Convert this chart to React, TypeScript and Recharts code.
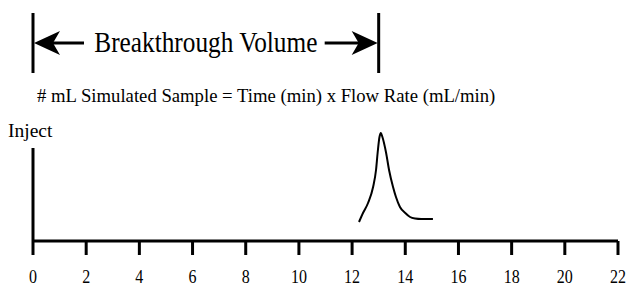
import React from 'react';
import { LineChart, Line, XAxis, YAxis, ReferenceLine } from 'recharts';

// Chromatogram trace (time in min, detector signal in arbitrary units)
const timeMin = [12.26, 12.41, 12.6, 12.79, 12.9, 12.96, 13.03, 13.08, 13.14, 13.28, 13.39, 13.54, 13.65, 13.8, 14.0, 14.18, 14.37, 14.6, 15.04];
const signal = [19, 28, 38, 54, 71, 88, 104, 108, 104, 88, 71, 54, 44, 34, 28, 24, 22.5, 22, 22];
const xTicks = [0, 2, 4, 6, 8, 10, 12, 14, 16, 18, 20, 22];
const injectTime = [0];
const breakthroughEnd = [13];
const injectHeight = [93];

const data = timeMin.map((t, i) => ({ t, s: signal[i] }));

const FONT = "'Liberation Serif', 'Times New Roman', Times, 'DejaVu Serif', serif";
const BRACKET_Y = 198;
const TICK_DEPTH = -14; // signal units = px (110 units over 110 px)

const BracketShape = (props: any) => {
  const { x1, y1, x2 } = props;
  const y = y1;
  const half = 30;
  const arrowLen = 51;
  const headL = 27;
  const headH = 12;
  return (
    <g>
      <line x1={x1} y1={y - half} x2={x1} y2={y + half} stroke="#000" strokeWidth={3} />
      <line x1={x2} y1={y - half} x2={x2} y2={y + half} stroke="#000" strokeWidth={3} />
      <line x1={x1 + 10} y1={y} x2={x1 + arrowLen} y2={y} stroke="#000" strokeWidth={3} />
      <path d={`M${x1 + 1},${y} L${x1 + headL},${y - headH} L${x1 + headL - 7},${y} L${x1 + headL},${y + headH} Z`} fill="#000" />
      <line x1={x2 - arrowLen - 3} y1={y} x2={x2 - 10} y2={y} stroke="#000" strokeWidth={3} />
      <path d={`M${x2 - 1},${y} L${x2 - headL},${y - headH} L${x2 - headL + 7},${y} L${x2 - headL},${y + headH} Z`} fill="#000" />
      <text
        transform={`translate(${(x1 + x2) / 2} ${y + 9}) scale(1 1.14)`}
        x={0}
        y={0}
        textAnchor="middle"
        style={{ fontFamily: FONT, fontSize: 25.3 }}
        fill="#000"
      >
        Breakthrough Volume
      </text>
    </g>
  );
};

const TimeTick = (props: any) => {
  const { x, y, payload } = props;
  return (
    <text
      transform={`translate(${x} ${y + 20}) scale(1 1.2)`}
      x={0}
      y={0}
      textAnchor="middle"
      style={{ fontFamily: FONT, fontSize: 16 }}
      fill="#000"
    >
      {payload.value}
    </text>
  );
};

export default function App() {
  return (
    <div style={{ position: 'absolute', left: 0, top: 0, width: 630, height: 288, background: '#fff' }}>
      <div style={{ position: 'absolute', left: 37, top: 85, fontFamily: FONT, fontSize: 18.7, color: '#000', whiteSpace: 'nowrap', lineHeight: '22px' }}>
        # mL Simulated Sample = Time (min) x Flow Rate (mL/min)
      </div>
      <div style={{ position: 'absolute', left: 8, top: 120, fontFamily: FONT, fontSize: 19.5, color: '#000', whiteSpace: 'nowrap', lineHeight: '22px' }}>
        Inject
      </div>
      <LineChart width={630} height={288} data={data} margin={{ top: 131, right: 12, bottom: 17, left: 33 }}>
        <XAxis
          dataKey="t"
          type="number"
          domain={[0, 22]}
          ticks={xTicks}
          interval={0}
          height={30}
          axisLine={{ stroke: '#000', strokeWidth: 3 }}
          tickLine={false}
          tickSize={14}
          tickMargin={8}
          tick={<TimeTick />}
        />
        <YAxis hide domain={[0, 110]} type="number" />
        {xTicks.map((t) => (
          <ReferenceLine
            key={`tick-${t}`}
            segment={[{ x: t, y: 0 }, { x: t, y: TICK_DEPTH }]}
            stroke="#000"
            strokeWidth={3}
            ifOverflow="visible"
          />
        ))}
        <ReferenceLine
          segment={[{ x: injectTime[0], y: 0 }, { x: injectTime[0], y: injectHeight[0] }]}
          stroke="#000"
          strokeWidth={3}
          ifOverflow="visible"
        />
        <ReferenceLine
          segment={[{ x: injectTime[0], y: BRACKET_Y }, { x: breakthroughEnd[0], y: BRACKET_Y }]}
          ifOverflow="visible"
          shape={BracketShape}
        />
        <Line
          dataKey="s"
          type="monotone"
          stroke="#000"
          strokeWidth={2}
          dot={false}
          isAnimationActive={false}
        />
      </LineChart>
    </div>
  );
}
